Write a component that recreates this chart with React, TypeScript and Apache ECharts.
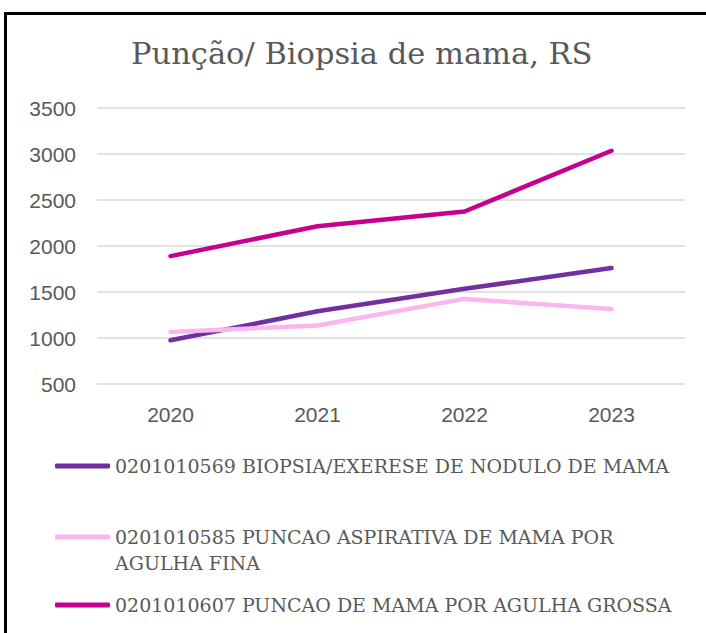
import React, { useEffect, useRef } from "react";
import * as echarts from "echarts";

const TITLE = "Punção/ Biopsia de mama, RS";
const YEARS = ["2020", "2021", "2022", "2023"];
const NAME_BIOPSIA = "0201010569 BIOPSIA/EXERESE DE NODULO DE MAMA";
const NAME_FINA = "0201010585 PUNCAO ASPIRATIVA DE MAMA POR AGULHA FINA";
const NAME_GROSSA = "0201010607 PUNCAO DE MAMA POR AGULHA GROSSA";
const BIOPSIA = [975, 1290, 1535, 1760];
const FINA = [1065, 1135, 1425, 1315];
const GROSSA = [1890, 2215, 2375, 3035];
const Y_MIN = 500;
const Y_MAX = 3500;
const Y_STEP = 500;

const COLORS = { biopsia: "#7030A0", fina: "#FBB6EE", grossa: "#C8008F" };
const TEXT = "#595959";
const SERIF = "'DejaVu Serif', serif";
const SANS = "'Liberation Sans', Arial, sans-serif";

export default function App() {
  const ref = useRef<HTMLDivElement>(null);
  useEffect(() => {
    document.body.style.margin = "0";
    const chart = echarts.init(ref.current!, undefined, { renderer: "svg" });
    const legendBase = {
      orient: "vertical",
      left: 55,
      padding: 0,
      itemWidth: 55,
      itemHeight: 5,
      icon: "roundRect",
      selectedMode: false,
      itemStyle: { borderWidth: 0 },
      textStyle: { color: TEXT, fontFamily: SERIF, fontSize: 19, lineHeight: 26 },
    };
    chart.setOption({
      animation: false,
      backgroundColor: "#ffffff",
      title: {
        text: TITLE,
        left: 131,
        top: 38,
        padding: 0,
        textStyle: { color: TEXT, fontFamily: SERIF, fontSize: 30.5, fontWeight: "normal" },
      },
      graphic: [
        {
          type: "rect",
          shape: { x: 5.5, y: 13.5, width: 800, height: 800 },
          style: { fill: "none", stroke: "#000", lineWidth: 3 },
          silent: true,
        },
      ],
      legend: [
        { ...legendBase, top: 453, data: [NAME_BIOPSIA] },
        {
          ...legendBase,
          top: 498,
          data: [NAME_FINA],
          formatter: (n: string) => "\n" + n.replace(" AGULHA", "\nAGULHA"),
        },
        { ...legendBase, top: 592, data: [NAME_GROSSA] },
      ],
      grid: { left: 97, right: 21, top: 108, bottom: 249, containLabel: false },
      xAxis: {
        type: "category",
        data: YEARS,
        boundaryGap: true,
        axisLine: { show: false },
        axisTick: { show: false },
        axisLabel: { color: TEXT, fontFamily: SANS, fontSize: 21, margin: 20 },
      },
      yAxis: {
        type: "value",
        min: Y_MIN,
        max: Y_MAX,
        interval: Y_STEP,
        axisLine: { show: false },
        axisTick: { show: false },
        axisLabel: {
          color: TEXT,
          fontFamily: SANS,
          fontSize: 21,
          margin: 21,
          formatter: (v: number) => String(v),
        },
        splitLine: { lineStyle: { color: "#D9D9D9", width: 1.5 } },
      },
      series: [
        {
          name: NAME_BIOPSIA,
          type: "line",
          data: BIOPSIA,
          symbol: "none",
          color: COLORS.biopsia,
          lineStyle: { width: 4.5, cap: "round", join: "round" },
        },
        {
          name: NAME_FINA,
          type: "line",
          data: FINA,
          symbol: "none",
          color: COLORS.fina,
          lineStyle: { width: 4.5, cap: "round", join: "round" },
        },
        {
          name: NAME_GROSSA,
          type: "line",
          data: GROSSA,
          symbol: "none",
          color: COLORS.grossa,
          lineStyle: { width: 4.5, cap: "round", join: "round" },
        },
      ],
    });
    return () => chart.dispose();
  }, []);
  return <div ref={ref} style={{ width: 706, height: 633 }} />;
}
